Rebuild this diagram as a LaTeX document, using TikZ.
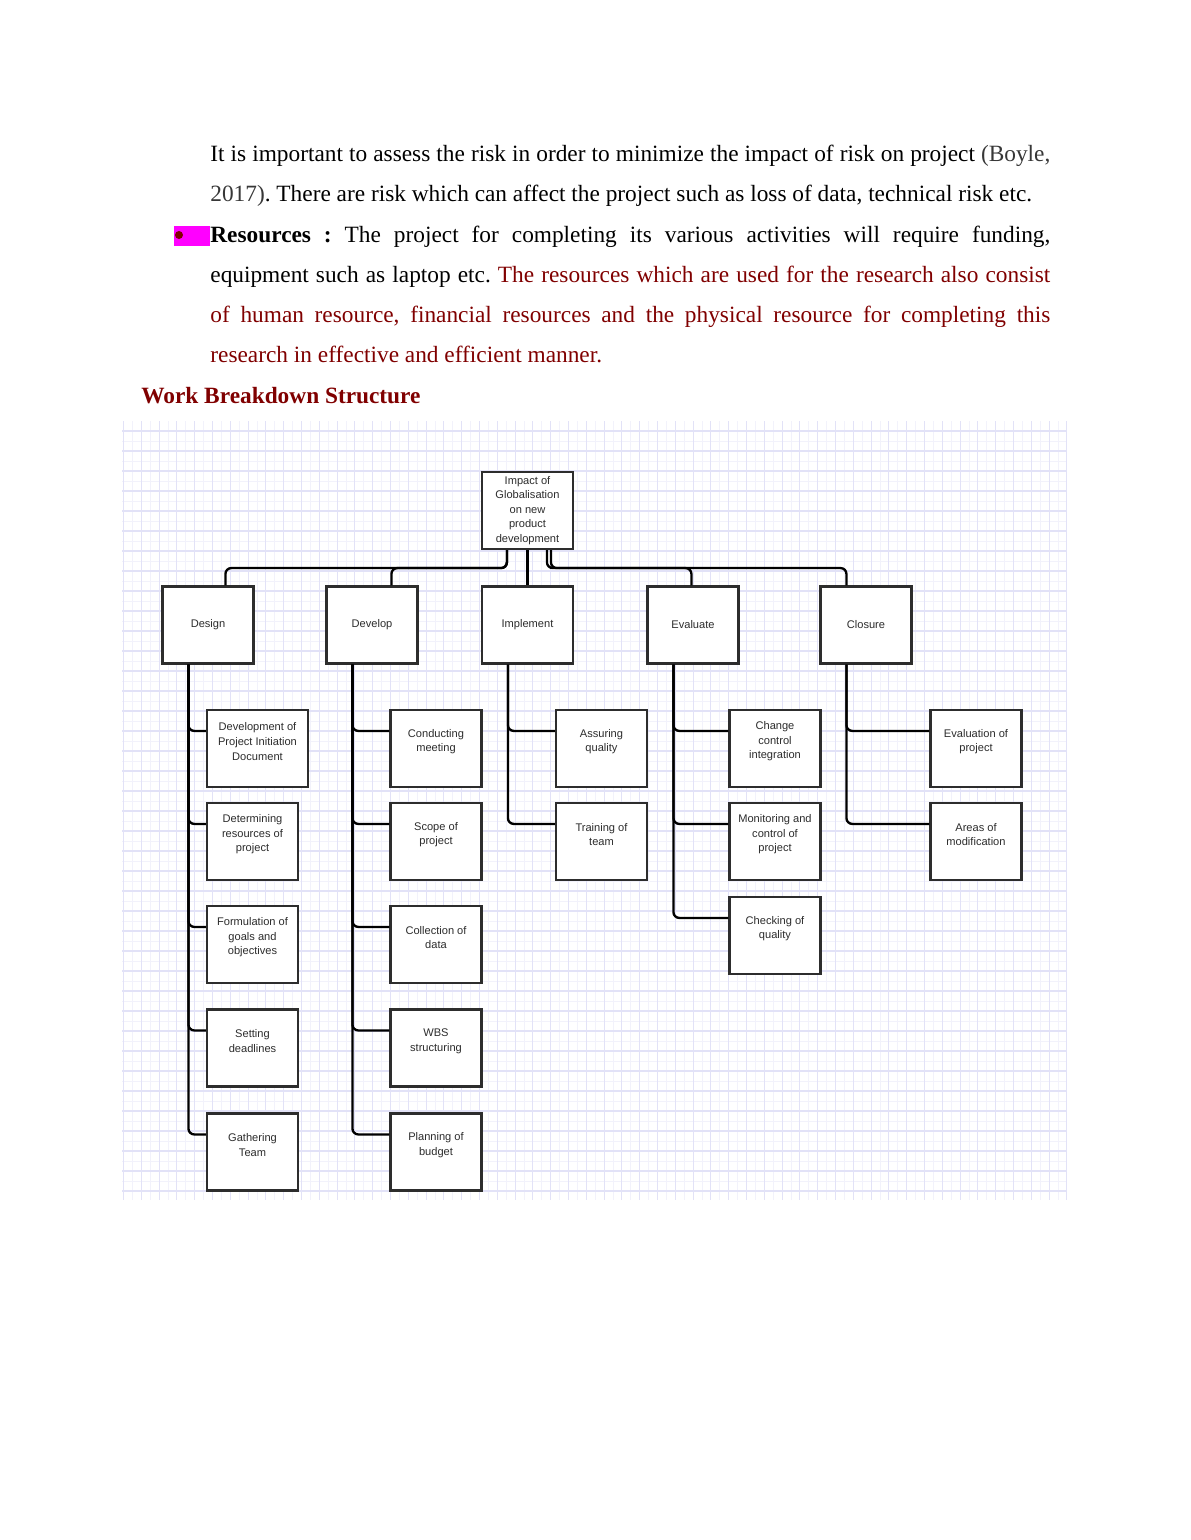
\documentclass[tikz,border=0pt]{standalone}
\usepackage{fontspec}
\setmainfont{Liberation Serif}
\newfontfamily\diagfont{Liberation Sans}
\usetikzlibrary{calc}

\definecolor{wordred}{RGB}{128,0,0}
\definecolor{citegray}{RGB}{55,55,55}
\definecolor{gridmajor}{RGB}{226,226,247}
\definecolor{gridminor}{RGB}{242,242,251}
\definecolor{boxline}{RGB}{45,45,45}
\definecolor{hilite}{RGB}{255,0,255}
\newcommand{\px}{0.5143pt}

\tikzset{
  bodyline/.style={anchor=base west, inner sep=0pt, font=\fontsize{12}{14}\selectfont\frenchspacing},
  wbsbox/.style={draw=boxline, line width=1.1pt, fill=white, minimum width=91*\px,
    minimum height=77*\px, inner sep=0pt, text=boxline, align=center,
    font=\diagfont\fontsize{5.7}{7.5}\selectfont},
  tasktext/.style={anchor=center, yshift=7*\px, inner sep=0pt, text=boxline, align=center,
    font=\diagfont\fontsize{5.7}{7.5}\selectfont},
  link/.style={line width=1.2pt, rounded corners=3pt},
  gridline/.style={draw=gridmajor, line width=0.6pt},
  gridfine/.style={draw=gridminor, line width=0.4pt},
}

\begin{document}
\begin{tikzpicture}[x=0.5143pt, y=-0.5143pt]
\useasboundingbox (0,0) rectangle (1190,1540);

% text above the chart
\node[bodyline] (l1) at (210,161) {\makebox[432pt][s]{It is important to assess the risk in order to minimize the impact of risk on project \textcolor{citegray}{(Boyle,}}};
\node[bodyline] (l2) at (210,201) {\textcolor{citegray}{2017)}. There are risk which can affect the project such as loss of data, technical risk etc.};
\fill[hilite] (174,226) rectangle (210,246);
\fill[wordred] (179,235) circle (4);
\node[bodyline] (l3) at (210,242) {\makebox[432pt][s]{\textbf{Resources :} The project for completing its various activities will require funding,}};
\node[bodyline] (l4) at (210,282) {\makebox[432pt][s]{equipment such as laptop etc. \textcolor{wordred}{The resources which are used for the research also consist}}};
\node[bodyline] (l5) at (210,322) {\makebox[432pt][s]{\color{wordred}of human resource, financial resources and the physical resource for completing this}};
\node[bodyline, text=wordred] (l6) at (210,362) {research in effective and efficient manner.};
\node[bodyline, text=wordred] (title) at (141,403) {\textbf{Work Breakdown Structure}};

% grid paper
\fill[white] (122,421) rectangle (1067,1200);
\foreach \i in {0,...,52} {
  \draw[gridfine] ({132.4+17.8*\i},421) -- ({132.4+17.8*\i},1200);
}
\foreach \j in {0,...,37} {
  \draw[gridfine] (122,{441+20*\j}) -- (1067,{441+20*\j});
}
\foreach \i in {0,...,53} {
  \draw[gridline] ({123.5+17.8*\i},421) -- ({123.5+17.8*\i},1200);
}
\foreach \j in {0,...,38} {
  \draw[gridline] (122,{431+20*\j}) -- (1067,{431+20*\j});
}

% top and phases
\node[wbsbox] (root) at (527.5,510.5) {Impact of\\Globalisation\\on new\\product\\development};
\node[wbsbox] (design) at (208,625) {Design};
\node[wbsbox] (develop) at (372,625) {Develop};
\node[wbsbox] (implement) at (527.5,625) {Implement};
\node[wbsbox] (evaluate) at (693,625) {Evaluate};
\node[wbsbox] (closure) at (866,625) {Closure};

% design tasks
\node[wbsbox, minimum width=101*\px, label={[tasktext]center:Development of\\Project Initiation\\Document}] (d1) at (257.5,748.5) {};
\node[wbsbox, label={[tasktext]center:Determining\\resources of\\project}] (d2) at (252.5,841.5) {};
\node[wbsbox, label={[tasktext]center:Formulation of\\goals and\\objectives}] (d3) at (252.5,944.5) {};
\node[wbsbox, label={[tasktext]center:Setting\\deadlines}] (d4) at (252.5,1048) {};
\node[wbsbox, label={[tasktext]center:Gathering\\Team}] (d5) at (252.5,1152) {};

% develop tasks
\node[wbsbox, label={[tasktext]center:Conducting\\meeting}] (v1) at (436,748.5) {};
\node[wbsbox, label={[tasktext]center:Scope of\\project}] (v2) at (436,841.5) {};
\node[wbsbox, label={[tasktext]center:Collection of\\data}] (v3) at (436,944.5) {};
\node[wbsbox, label={[tasktext]center:WBS\\structuring}] (v4) at (436,1048) {};
\node[wbsbox, label={[tasktext]center:Planning of\\budget}] (v5) at (436,1152) {};

% implement tasks
\node[wbsbox, label={[tasktext]center:Assuring\\quality}] (i1) at (601.5,748.5) {};
\node[wbsbox, label={[tasktext]center:Training of\\team}] (i2) at (601.5,841.5) {};

% evaluate tasks
\node[wbsbox, label={[tasktext]center:Change\\control\\integration}] (e1) at (775,748.5) {};
\node[wbsbox, label={[tasktext]center:Monitoring and\\control of\\project}] (e2) at (775,841.5) {};
\node[wbsbox, label={[tasktext]center:Checking of\\quality}] (e3) at (775,935.5) {};

% closure tasks
\node[wbsbox, label={[tasktext]center:Evaluation of\\project}] (c1) at (976,748.5) {};
\node[wbsbox, label={[tasktext]center:Areas of\\modification}] (c2) at (976,841.5) {};

% links from the top box
\draw[link] ($(root.south west)+(26,0)$) -- ++(0,18) -| ($(design.north west)+(64,0)$);
\draw[link] ($(root.south west)+(26,0)$) -- ++(0,18) -| ($(develop.north west)+(66,0)$);
\draw[link] (root.south) -- (implement.north);
\draw[link] ($(root.south west)+(66,0)$) -- ++(0,18) -| ($(evaluate.north west)+(45,0)$);
\draw[link] ($(root.south west)+(70,0)$) -- ++(0,18) -| ($(closure.north west)+(27,0)$);

% links to the tasks
\foreach \n in {d1,d2,d3,d4,d5}
  \draw[link] ($(design.south west)+(27,0)$) |- ($(\n.north west)+(0,22)$);
\foreach \n in {v1,v2,v3,v4,v5}
  \draw[link] ($(develop.south west)+(27,0)$) |- ($(\n.north west)+(0,22)$);
\foreach \n in {i1,i2}
  \draw[link] ($(implement.south west)+(27,0)$) |- ($(\n.north west)+(0,22)$);
\foreach \n in {e1,e2,e3}
  \draw[link] ($(evaluate.south west)+(27,0)$) |- ($(\n.north west)+(0,22)$);
\foreach \n in {c1,c2}
  \draw[link] ($(closure.south west)+(27,0)$) |- ($(\n.north west)+(0,22)$);
\end{tikzpicture}
\end{document}
